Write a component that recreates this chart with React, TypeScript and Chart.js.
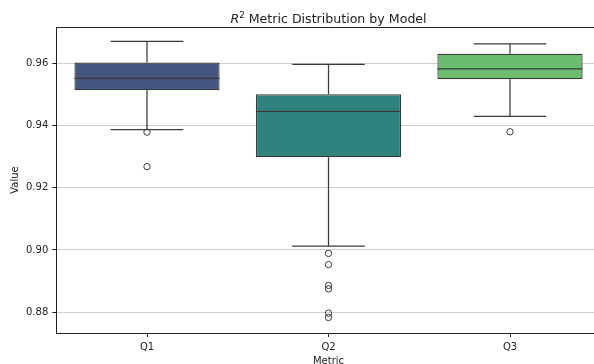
import React, { useEffect, useRef } from 'react';
import { Chart, registerables } from 'chart.js';

Chart.register(...registerables);

const categories = ['Q1', 'Q2', 'Q3'];
const whiskerLow = [0.9387, 0.9012, 0.943];
const boxLow = [0.9514, 0.9298, 0.9549];
const medians = [0.9552, 0.9446, 0.9582];
const boxHigh = [0.9603, 0.9501, 0.9631];
const whiskerHigh = [0.9671, 0.9597, 0.9663];
const outliersQ1 = [0.9379, 0.9268];
const outliersQ2 = [0.8989, 0.8953, 0.8886, 0.8875, 0.8797, 0.8783];
const outliersQ3 = [0.938];
const boxColors = ['#455681', '#2f837f', '#6bbc6e'];
const yTicks = [0.88, 0.9, 0.92, 0.94, 0.96];
const yMin = 0.8733;
const yMax = 0.9717;

const LINE = '#3a3a3a';
const TEXT = '#222222';
const FONT = 'DejaVu Sans';
const W = 620;
const H = 367;

const boxPlugin = {
  id: 'boxExtras',
  afterDatasetsDraw(chart: any) {
    const ctx = chart.ctx;
    const xs = chart.scales.x;
    const ys = chart.scales.y;
    const band = (xs.right - xs.left) / categories.length;
    const half = band * 0.8 / 2;
    const capHalf = band * 0.4 / 2;
    ctx.save();
    ctx.strokeStyle = LINE;
    ctx.lineWidth = 1.25;
    categories.forEach((c, i) => {
      const cx = xs.getPixelForValue(i);
      const yl = ys.getPixelForValue(whiskerLow[i]);
      const yb = ys.getPixelForValue(boxLow[i]);
      const yt = ys.getPixelForValue(boxHigh[i]);
      const yh = ys.getPixelForValue(whiskerHigh[i]);
      const ym = ys.getPixelForValue(medians[i]);
      ctx.beginPath();
      ctx.moveTo(cx, yb); ctx.lineTo(cx, yl);
      ctx.moveTo(cx - capHalf, yl); ctx.lineTo(cx + capHalf, yl);
      ctx.moveTo(cx, yt); ctx.lineTo(cx, yh);
      ctx.moveTo(cx - capHalf, yh); ctx.lineTo(cx + capHalf, yh);
      ctx.moveTo(cx - half, ym); ctx.lineTo(cx + half, ym);
      ctx.stroke();
    });
    ctx.restore();
  },
  afterDraw(chart: any) {
    const ctx = chart.ctx;
    const { left, right, top } = chart.chartArea;
    ctx.save();
    // top spine
    ctx.strokeStyle = TEXT;
    ctx.lineWidth = 1;
    ctx.beginPath();
    ctx.moveTo(left, Math.round(top) + 0.5);
    ctx.lineTo(right, Math.round(top) + 0.5);
    ctx.stroke();
    // title
    const parts = [
      { t: 'R', f: `italic 12.6px "${FONT}"`, dy: 0 },
      { t: '2', f: `8.8px "${FONT}"`, dy: -4.8 },
      { t: ' Metric Distribution by Model', f: `12.6px "${FONT}"`, dy: 0 },
    ];
    let total = 0;
    const widths = parts.map((p) => {
      ctx.font = p.f;
      const w = ctx.measureText(p.t).width;
      total += w;
      return w;
    });
    let x = (left + right) / 2 - total / 2;
    const baseY = 22.8;
    ctx.fillStyle = TEXT;
    ctx.textBaseline = 'alphabetic';
    ctx.textAlign = 'left';
    parts.forEach((p, i) => {
      ctx.font = p.f;
      ctx.fillText(p.t, x, baseY + p.dy);
      x += widths[i];
    });
    ctx.restore();
  },
};

export default function App() {
  const ref = useRef<HTMLCanvasElement>(null);
  useEffect(() => {
    if (!ref.current) return;
    const outlierData = [
      ...outliersQ1.map((v) => ({ x: categories[0], y: v })),
      ...outliersQ2.map((v) => ({ x: categories[1], y: v })),
      ...outliersQ3.map((v) => ({ x: categories[2], y: v })),
    ];
    const chart = new Chart(ref.current, {
      type: 'bar',
      data: {
        labels: categories,
        datasets: [
          {
            type: 'bar',
            data: categories.map((_, i) => [boxLow[i], boxHigh[i]]) as any,
            backgroundColor: boxColors,
            borderColor: LINE,
            borderWidth: 1.25,
            borderSkipped: false,
            categoryPercentage: 0.8,
            barPercentage: 1,
            order: 2,
          } as any,
          {
            type: 'scatter',
            data: outlierData as any,
            pointStyle: 'circle',
            pointRadius: 3.2,
            pointBackgroundColor: 'rgba(0,0,0,0)',
            pointBorderColor: LINE,
            pointBorderWidth: 1,
            order: 0,
          } as any,
        ],
      },
      options: {
        responsive: false,
        maintainAspectRatio: false,
        animation: false,
        layout: { padding: { top: 27, right: W - 600.75, bottom: 0, left: 0 } },
        plugins: {
          legend: { display: false },
          tooltip: { enabled: false },
          title: { display: false },
        },
        scales: {
          x: {
            type: 'category',
            offset: true,
            grid: {
              display: true,
              offset: false,
              drawOnChartArea: false,
              drawTicks: true,
              tickLength: 4,
              tickColor: TEXT,
            },
            border: { color: TEXT, width: 1 },
            ticks: { color: TEXT, font: { family: FONT, size: 10 }, padding: 4 },
            title: {
              display: true,
              text: 'Metric',
              color: TEXT,
              font: { family: FONT, size: 10 },
              padding: 0,
            },
            afterFit: (s: any) => {
              s.height = 34;
            },
          } as any,
          y: {
            type: 'linear',
            min: yMin,
            max: yMax,
            afterBuildTicks: (s: any) => {
              s.ticks = yTicks.map((v) => ({ value: v }));
            },
            ticks: {
              color: TEXT,
              font: { family: FONT, size: 10 },
              padding: 4,
              callback: (v: any) => Number(v).toFixed(2),
            },
            grid: { color: '#cfcfcf', lineWidth: 1, tickColor: TEXT, tickLength: 4 },
            border: { color: TEXT, width: 1 },
            title: {
              display: true,
              text: 'Value',
              color: TEXT,
              font: { family: FONT, size: 10 },
              padding: { top: 9, bottom: 0 },
            },
            afterFit: (s: any) => {
              s.width = 56.25;
            },
          } as any,
        },
      },
      plugins: [boxPlugin],
    });
    return () => chart.destroy();
  }, []);
  return (
    <div
      style={{
        position: 'fixed',
        left: 0,
        top: 0,
        width: 594,
        height: 364,
        overflow: 'hidden',
        background: '#ffffff',
      }}
    >
      <canvas ref={ref} width={W} height={H} style={{ width: W, height: H, display: 'block' }} />
    </div>
  );
}
